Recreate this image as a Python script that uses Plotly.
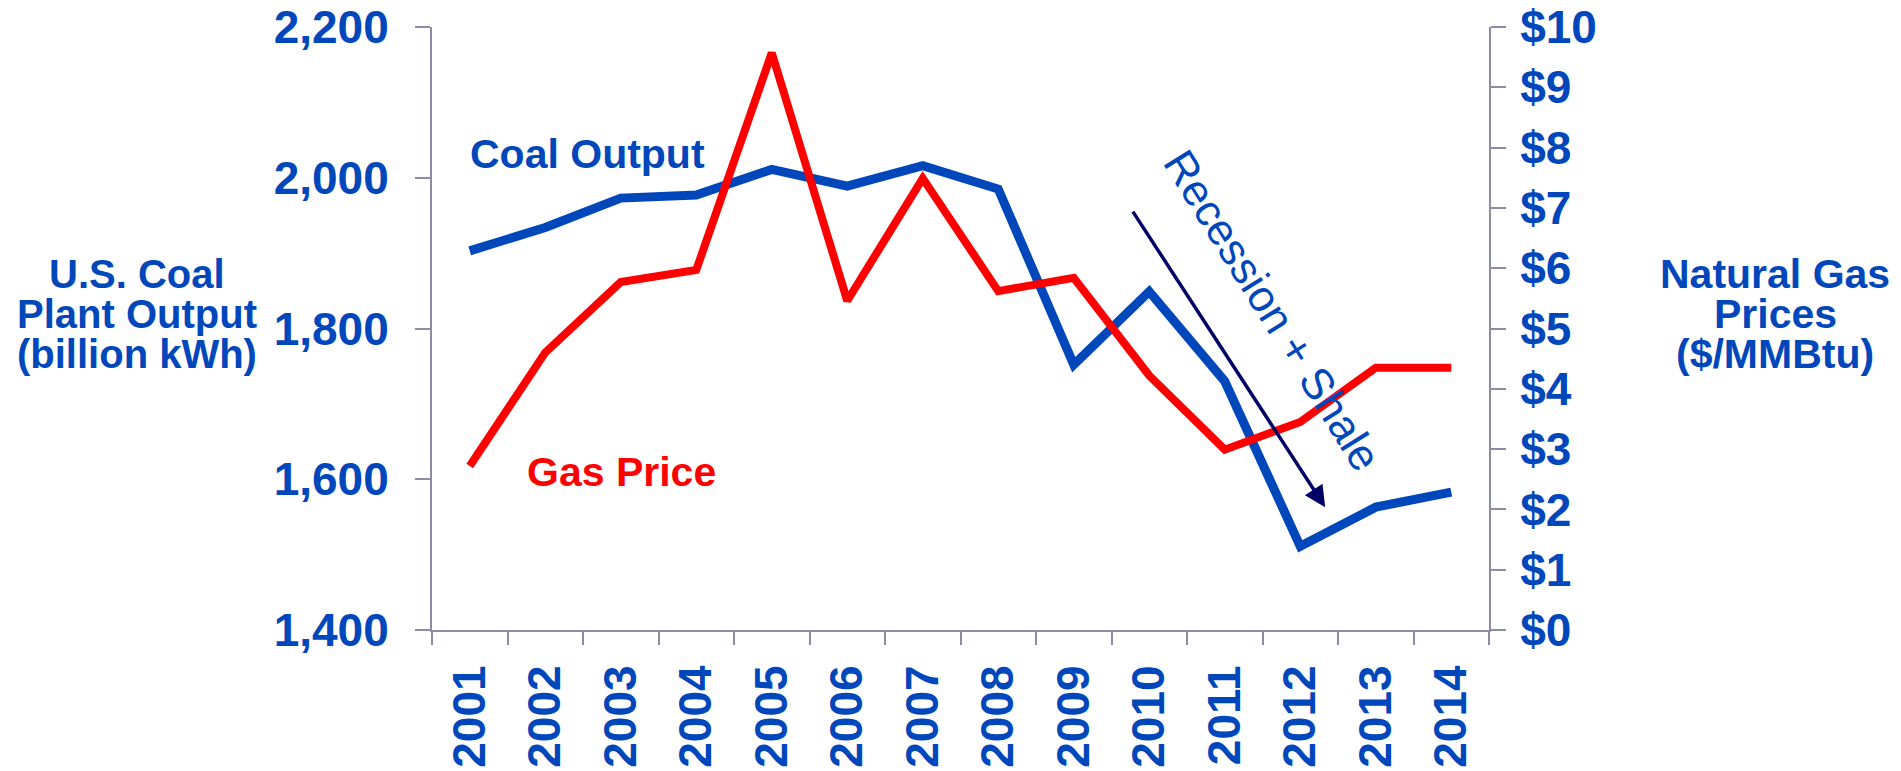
import plotly.graph_objects as go

YEARS = [str(y) for y in range(2001, 2015)]
COAL_OUTPUT = [1903, 1934, 1973, 1977, 2011, 1989, 2016, 1985, 1752, 1849, 1730, 1511, 1563, 1583]
GAS_PRICE = [2.72, 4.60, 5.77, 5.97, 9.57, 5.46, 7.49, 5.62, 5.84, 4.22, 2.99, 3.45, 4.35, 4.35]

LEFT_TITLE = ["U.S. Coal", "Plant Output", "(billion kWh)"]
RIGHT_TITLE = ["Natural Gas", "Prices", "($/MMBtu)"]

BLUE = "#0047BB"
RED = "#FF0000"
AXIS = "#8C8CA4"
NAVY = "#000066"
FONT = "Arial, Liberation Sans, sans-serif"

# page body has an 8px margin, so the figure is drawn 8px in from the corner
OFF = 8
W, H = 1901, 771
L, R, T, B = 432 - OFF, 1489 - OFF, 27 - OFF, 630 - OFF


def px(x, y):
    """screen pixel position -> paper coords"""
    return (x - OFF - L) / (R - L), (B - (y - OFF)) / (B - T)


fig = go.Figure()
fig.add_trace(go.Scatter(
    x=YEARS, y=COAL_OUTPUT, mode="lines", name="Coal Output",
    line=dict(color=BLUE, width=9), yaxis="y",
))
fig.add_trace(go.Scatter(
    x=YEARS, y=GAS_PRICE, mode="lines", name="Gas Price",
    line=dict(color=RED, width=8), yaxis="y2",
))

tickfont = dict(family=FONT, size=46, color=BLUE, weight="bold")
axis_common = dict(
    showline=True, linecolor=AXIS, linewidth=2, showgrid=False, zeroline=False,
    ticks="outside", tickcolor=AXIS, tickwidth=2, ticklen=15, tickfont=tickfont,
    automargin=False, ticklabeloverflow="allow",
)

annotations = []
for i, line in enumerate(LEFT_TITLE):
    xx, yy = px(137, 274 + i * 40)
    annotations.append(dict(text=line, x=xx, y=yy, xref="paper", yref="paper",
                            showarrow=False, xanchor="center", yanchor="middle",
                            font=dict(family=FONT, size=40, color=BLUE, weight="bold")))
for i, line in enumerate(RIGHT_TITLE):
    xx, yy = px(1775, 274 + i * 40)
    annotations.append(dict(text=line, x=xx, y=yy, xref="paper", yref="paper",
                            showarrow=False, xanchor="center", yanchor="middle",
                            font=dict(family=FONT, size=41, color=BLUE, weight="bold")))

# series labels
annotations.append(dict(text="Coal Output", x=1.555, y=2032, xref="x", yref="y",
                        showarrow=False, font=dict(family=FONT, size=41, color=BLUE, weight="bold")))
annotations.append(dict(text="Gas Price", x=2.01, y=1609, xref="x", yref="y",
                        showarrow=False, font=dict(family=FONT, size=41, color=RED, weight="bold")))

# recession arrow + label
annotations.append(dict(text="", x=11.33, y=1563, ax=8.77, ay=1957,
                        xref="x", yref="y", axref="x", ayref="y",
                        showarrow=True, arrowhead=2, arrowsize=1.2, arrowwidth=3.5,
                        arrowcolor=NAVY))
tx, ty = px(1273, 310)
annotations.append(dict(text="Recession + Shale", x=tx, y=ty, xref="paper", yref="paper",
                        xanchor="center", yanchor="middle",
                        showarrow=False, textangle=58,
                        font=dict(family=FONT, size=44, color=BLUE)))

fig.update_layout(
    width=W, height=H,
    margin=dict(l=L, r=W - R, t=T, b=H - B, pad=0),
    plot_bgcolor="white", paper_bgcolor="white",
    showlegend=False,
    xaxis=dict(type="category", tickson="boundaries", tickangle=-90,
               range=[-0.5, len(YEARS) - 0.5], ticklabelstandoff=15,
               **{**axis_common, "ticklen": 13}),
    yaxis=dict(range=[1400, 2200], dtick=200, tickformat=",d",
               ticklabelstandoff=17, **axis_common),
    yaxis2=dict(range=[0, 10], dtick=1, tickprefix="$", overlaying="y", side="right",
                ticklabelstandoff=5, **axis_common),
    annotations=annotations,
)

fig.write_html("out.html")
